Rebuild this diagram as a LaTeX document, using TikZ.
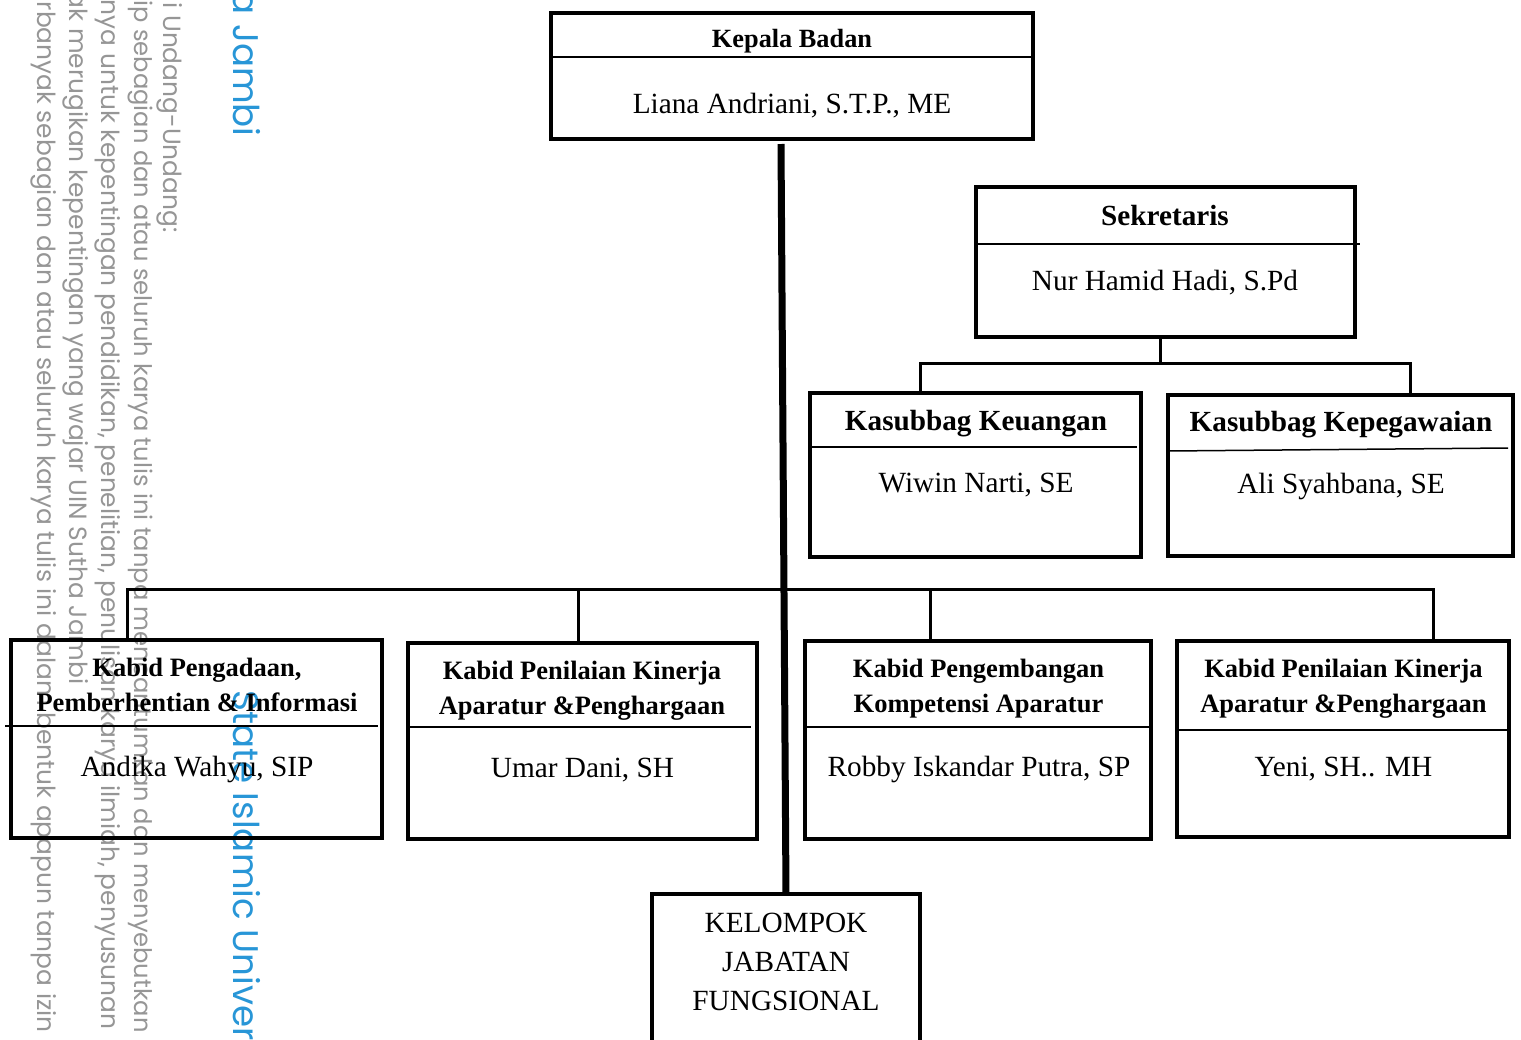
\documentclass[tikz,border=0pt]{standalone}
\usepackage{fontspec}
\setmainfont{Liberation Serif}
\newfontfamily\wmfont{Poppins}
\definecolor{wmgray}{RGB}{150,150,150}
\definecolor{wmblue}{RGB}{40,150,215}
\tikzset{
  box/.style={draw, line width=2pt, inner sep=0pt, outer sep=0pt},
  div/.style={line width=0.75pt},
  conn/.style={line width=1.5pt},
  spine/.style={line width=3.5pt},
  ttlK/.style={font=\fontsize{13.15pt}{15pt}\bfseries\selectfont, inner sep=0pt, anchor=base},
  ttlS/.style={font=\fontsize{14.6pt}{17pt}\bfseries\selectfont, inner sep=0pt, anchor=base},
  ttlB/.style={font=\fontsize{13.25pt}{15pt}\bfseries\selectfont, inner sep=0pt, anchor=base},
  nm/.style={font=\fontsize{14.65pt}{17pt}\selectfont, inner sep=0pt, anchor=base},
  wm/.style={font=\wmfont\fontsize{12.45pt}{14pt}\selectfont, text=wmgray, rotate=-90, inner sep=0pt},
  wmb/.style={font=\wmfont\fontsize{17.8pt}{22pt}\selectfont, text=wmblue, rotate=-90, inner sep=0pt}
}
\begin{document}
\begin{tikzpicture}[x=0.5pt, y=-0.5pt]
\path[use as bounding box] (0,0) rectangle (1521,1039);
\clip (0,0) rectangle (1521,1039);
\fill[white] (0,0) rectangle (1521,1039);

% watermark
\node[wm, anchor=base east] (w1) at (163,233) {gi Undang-Undang:};
\node[wm, anchor=base east, font=\wmfont\fontsize{12.1pt}{14pt}\selectfont] (w2) at (134,1033) {ip sebagian dan atau seluruh karya tulis ini tanpa mencantumkan dan menyebutkan};
\node[wm, anchor=base east] (w3) at (101,1030) {nya untuk kepentingan pendidikan, penelitian, penulisan karya ilmiah, penyusunan};
\node[wm, anchor=base east] (w4) at (69,685) {ak merugikan kepentingan yang wajar UIN Sutha Jambi};
\node[wm, anchor=base east] (w5) at (37,1033) {rbanyak sebagian dan atau seluruh karya tulis ini dalam bentuk apapun tanpa izin};
\node[wmb, anchor=base east] (w6) at (233,137) {a Jambi};
\node[wmb, anchor=base west] (w7) at (233,690) {State Islamic Univer};

% boxes
\node[box, minimum width=241pt, minimum height=63pt] (kepala) at (792,76) {};
\node[box, minimum width=189.5pt, minimum height=75pt] (sekr) at (1165.5,262) {};
\node[box, minimum width=165.5pt, minimum height=82pt] (keu) at (975.5,475) {};
\node[box, minimum width=172.5pt, minimum height=80.5pt] (kep) at (1340.5,475.5) {};
\node[box, minimum width=185.5pt, minimum height=99pt] (kb1) at (196.5,739) {};
\node[box, minimum width=174.5pt, minimum height=98pt] (kb2) at (582.5,741) {};
\node[box, minimum width=173pt, minimum height=99pt] (kb3) at (978,740) {};
\node[box, minimum width=166pt, minimum height=98pt] (kb4) at (1343,739) {};
\node[box, minimum width=134pt, minimum height=93pt] (kjf) at (786,987) {};

% dividers
\draw[div] (551,57) -- (1033,57);
\draw[div] (976,244) -- (1360,244);
\draw[div] (810,447) -- (1137,447);
\draw[div] (1168,451) -- (1508,448);
\draw[div] (5,726) -- (378,726);
\draw[div] (408,727) -- (751,727);
\draw[div] (805,727) -- (1151,727);
\draw[div] (1177,730) -- (1509,730);

% texts
\node[ttlK] (t1) at (792,47) {Kepala Badan};
\node[nm] (n1) at (792,113) {Liana Andriani, S.T.P., ME};
\node[ttlS] (t2) at (1165,225) {Sekretaris};
\node[nm] (n2) at (1165,290) {Nur Hamid Hadi, S.Pd};
\node[ttlS] (t3) at (976,430) {Kasubbag Keuangan};
\node[nm] (n3) at (976,492) {Wiwin Narti, SE};
\node[ttlS] (t4) at (1341,431) {Kasubbag Kepegawaian};
\node[nm] (n4) at (1341,493) {Ali Syahbana, SE};
\node[ttlB] (t5a) at (197,676) {Kabid Pengadaan,};
\node[ttlB] (t5b) at (197,711) {Pemberhentian \& Informasi};
\node[nm] (n5) at (197,776) {Andika Wahyu, SIP};
\node[ttlB] (t6a) at (582,679) {Kabid Penilaian Kinerja};
\node[ttlB] (t6b) at (582,714) {Aparatur \&Penghargaan};
\node[nm] (n6) at (582.5,777) {Umar Dani, SH};
\node[ttlB] (t7a) at (978.5,677) {Kabid Pengembangan};
\node[ttlB] (t7b) at (978.5,712) {Kompetensi Aparatur};
\node[nm] (n7) at (979,776) {Robby Iskandar Putra, SP};
\node[ttlB] (t8a) at (1343.5,677) {Kabid Penilaian Kinerja};
\node[ttlB] (t8b) at (1343.5,712) {Aparatur \&Penghargaan};
\node[nm] (n8) at (1343.5,776) {Yeni, SH.. MH};
\node[nm] (k1) at (786,932) {KELOMPOK};
\node[nm] (k2) at (786,971) {JABATAN};
\node[nm] (k3) at (786,1010) {FUNGSIONAL};

% connectors
\coordinate (sj) at (1160,363);
\coordinate (xk) at (920,363);
\coordinate (xp) at (1410,363);
\draw[conn] (sekr.south -| sj) -- (sj);
\draw[conn] (keu.north -| xk) -- (xk) -- (xp) -- (kep.north -| xp);

\coordinate (b1) at (127,589);
\coordinate (b2) at (578,589);
\coordinate (b3) at (930,589);
\coordinate (b4) at (1433,589);
\draw[conn] (kb1.north -| b1) -- (b1) -- (b4) -- (kb4.north -| b4);
\draw[conn] (b2) -- (kb2.north -| b2);
\draw[conn] (b3) -- (kb3.north -| b3);

\draw[spine] ([xshift=-5.5pt, yshift=-2.5pt]kepala.south) -- (kjf.north);
\end{tikzpicture}
\end{document}
